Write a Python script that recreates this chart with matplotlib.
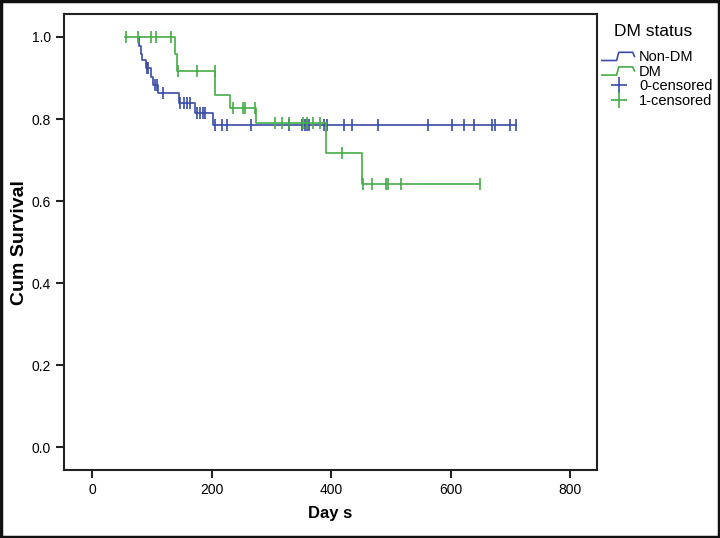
import numpy as np
import matplotlib
matplotlib.use("Agg")
import matplotlib.pyplot as plt
from matplotlib.lines import Line2D
from matplotlib.legend_handler import HandlerBase
from matplotlib.patches import Rectangle

plt.rcParams["font.family"] = ["Liberation Sans", "DejaVu Sans"]

# Non-DM group: event times (days) and survival after each event
nondm_start = 79
nondm_event_t = [79, 81, 84, 90, 99, 102, 110, 145, 172, 203]
nondm_event_s = [0.979, 0.958, 0.944, 0.924, 0.903, 0.884, 0.863, 0.840, 0.814, 0.786]
nondm_cens_t = [92, 94, 106, 108, 119, 147, 154, 158, 164, 176, 181, 185, 189,
                205, 217, 225, 266, 329, 352, 356, 359, 363, 388, 393, 421,
                435, 479, 562, 603, 623, 640, 670, 675, 700, 710]

# DM group
dm_start = 55
dm_event_t = [139, 142, 206, 231, 274, 391, 451]
dm_event_s = [0.958, 0.917, 0.859, 0.828, 0.791, 0.718, 0.641]
dm_cens_t = [57, 77, 99, 107, 132, 143, 175, 205, 236, 252, 256, 273, 306, 317,
             330, 353, 360, 370, 381, 418, 453, 468, 492, 496, 517, 650]

blue = "#3a4ca8"
green = "#46ad46"


def km_steps(start, ev_t, ev_s, cens_t):
    end = max(max(ev_t), max(cens_t))
    xs = [start] + list(ev_t) + [end]
    ys = [1.0] + list(ev_s) + [ev_s[-1]]
    ev_t = np.array(ev_t)
    surv = np.concatenate([[1.0], ev_s])
    idx = np.searchsorted(ev_t, np.array(cens_t), side="right")
    return xs, ys, surv[idx]


class StepHandler(HandlerBase):
    def create_artists(self, legend, orig_handle, xdescent, ydescent,
                       width, height, fontsize, trans):
        px = np.array([0.0, 0.42, 0.48, 0.88, 0.93]) * width - xdescent
        py = np.array([0.05, 0.05, 0.85, 0.85, 0.45]) * height - ydescent
        ln = Line2D(px, py, color=orig_handle.get_color(), lw=1.2, transform=trans)
        return [ln]


fig = plt.figure(figsize=(7.2, 5.38), dpi=100)
ax = fig.add_axes([0.089, 0.126, 0.74, 0.848])

for start, et, es, ct, col in [(nondm_start, nondm_event_t, nondm_event_s, nondm_cens_t, blue),
                               (dm_start, dm_event_t, dm_event_s, dm_cens_t, green)]:
    xs, ys, cy = km_steps(start, et, es, ct)
    ax.step(xs, ys, where="post", color=col, lw=1.2)
    ax.plot(ct, cy, linestyle="none", marker="|", markersize=8, mew=1.2, color=col)

ax.set_xlim(-47, 845)
ax.set_ylim(-0.056, 1.056)
ax.set_xticks([0, 200, 400, 600, 800])
ax.set_yticks([0.0, 0.2, 0.4, 0.6, 0.8, 1.0])
ax.set_yticklabels(["0.0", "0.2", "0.4", "0.6", "0.8", "1.0"])
ax.tick_params(direction="out", length=6, width=1.5, labelsize=10, color="#222222")
for sp in ax.spines.values():
    sp.set_linewidth(1.5)
    sp.set_color("#222222")

ax.set_xlabel("Day s", fontsize=12, fontweight="bold", labelpad=6)
ax.set_ylabel("Cum Survival", fontsize=14, fontweight="bold")
ax.yaxis.set_label_coords(-0.068, 0.5)

handles = [Line2D([], [], color=blue), Line2D([], [], color=green),
           Line2D([], [], color=blue, marker="+", linestyle="none", markersize=11, mew=1.2),
           Line2D([], [], color=green, marker="+", linestyle="none", markersize=11, mew=1.2)]
labels = ["Non-DM", "DM", "0-censored", "1-censored"]
fig.text(0.907, 1 - 32 / 538, "DM status", fontsize=12.5, ha="center", va="center")
fig.legend(handles, labels, loc="upper left", bbox_to_anchor=(0.836, 1 - 50 / 538),
           frameon=False, fontsize=10.5, borderpad=0, borderaxespad=0,
           handlelength=2.4, handletextpad=0.15, labelspacing=0.04,
           handler_map={handles[0]: StepHandler(), handles[1]: StepHandler()})

fig.patches.append(Rectangle((0.001, 0.001), 0.997, 0.997, transform=fig.transFigure,
                             fill=False, edgecolor="#111111", lw=2.5))

fig.savefig("out.png", dpi=100)
